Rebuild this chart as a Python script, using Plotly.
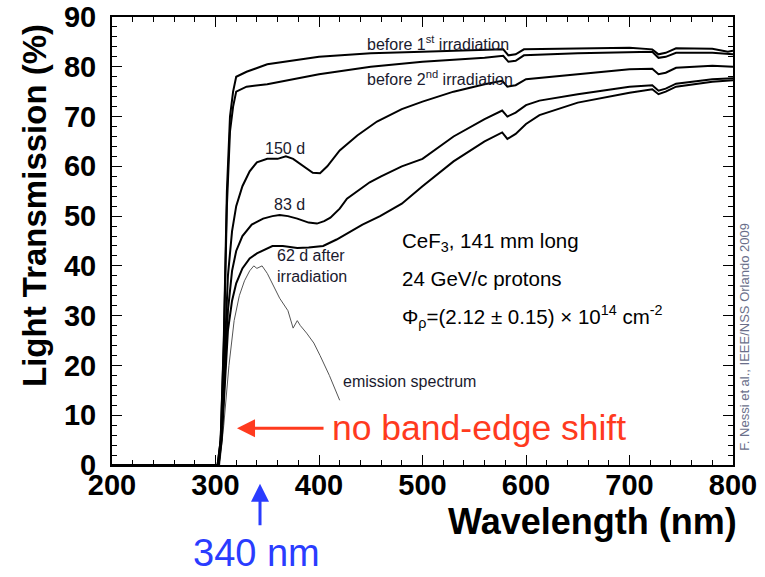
import plotly.graph_objects as go

# ---------------- data ----------------
wl_b1 = [200, 302, 305, 308, 311, 314, 317, 320, 330, 350, 400, 450, 500, 560, 578, 583, 590, 598, 650, 700, 722, 728, 735, 745, 780, 795, 800]
t_b1 = [0, 0, 5, 25, 55, 70, 75, 78, 79, 80.5, 82, 82.7, 83, 83.4, 83.5, 82.3, 82.5, 83.5, 83.7, 83.8, 83.5, 82.5, 82.8, 83.7, 83.6, 83, 83.2]

wl_b2 = [200, 302, 305, 308, 311, 314, 317, 320, 330, 350, 400, 450, 500, 560, 578, 583, 590, 598, 650, 700, 722, 728, 735, 745, 780, 800]
t_b2 = [0, 0, 5, 24, 52, 67, 72, 75, 76, 76.5, 78.5, 80, 81, 81.8, 82.2, 81, 81.2, 82.3, 82.7, 83, 83, 81.8, 82, 82.8, 82.8, 82.5]

wl_150 = [200, 303, 306, 309, 312, 316, 320, 326, 333, 340, 350, 360, 368, 375, 385, 394, 401, 408, 420, 437, 456, 480, 500, 530, 560, 577, 582, 590, 600, 650, 700, 722, 728, 735, 745, 780, 800]
t_150 = [0, 0, 8, 25, 38, 47, 52, 56, 59, 60.8, 61.5, 61.5, 62, 61.5, 60, 58.7, 58.6, 60, 63.2, 66.2, 69, 71.5, 73, 75, 76.5, 77.2, 76, 76.3, 77.5, 78.5, 79.5, 79.6, 78.5, 78.8, 79.8, 80.2, 80]

wl_83 = [200, 303, 306, 309, 312, 316, 320, 326, 335, 346, 355, 362, 370, 379, 390, 398, 405, 411, 420, 427, 440, 449, 460, 480, 500, 530, 560, 577, 582, 590, 600, 613, 650, 700, 722, 728, 735, 745, 780, 800]
t_83 = [0, 0, 6, 20, 31, 39, 43, 46, 48.3, 49.5, 50, 50.2, 50, 49.5, 48.7, 48.5, 49, 49.7, 51.5, 53.5, 55.5, 56.8, 58, 60, 61.5, 66, 69.5, 71.2, 70, 70.8, 72.3, 73.2, 74.5, 76, 76.3, 75.2, 75.6, 76.6, 77.5, 77.7]

wl_62 = [200, 303, 306, 309, 312, 316, 320, 326, 333, 340, 355, 365, 379, 390, 404, 417, 430, 442, 459, 480, 500, 530, 560, 577, 582, 590, 600, 613, 650, 700, 722, 728, 735, 745, 780, 800]
t_62 = [0, 0, 5, 17, 27, 33, 36.5, 39.5, 41.5, 42.5, 44, 44, 43.6, 43.7, 44, 45.3, 46.8, 48.3, 50, 52.5, 56, 61, 65, 66.8, 65.5, 66.5, 68.5, 70.3, 72.8, 74.8, 75.5, 74.5, 75, 76, 77, 77.3]

wl_em = [304, 308, 313, 318, 323, 328, 333, 337, 340, 345, 350, 355, 362, 370, 375, 379, 382, 388, 395, 401, 410, 420]
em = [0, 8, 20, 29, 34, 37, 39, 40, 39.5, 40, 38.5, 36.5, 33.5, 31, 27.5, 29, 28, 26.5, 24.5, 22, 18, 13]

x_ticks = [200, 300, 400, 500, 600, 700, 800]
y_ticks = [0, 10, 20, 30, 40, 50, 60, 70, 80, 90]

# ---------------- figure ----------------
FONT = "Liberation Sans"
fig = go.Figure()

fig.add_trace(go.Scatter(x=wl_em, y=em, mode="lines",
                         line=dict(color="#555555", width=1), showlegend=False))
for wl, t in [(wl_62, t_62), (wl_83, t_83), (wl_150, t_150), (wl_b2, t_b2), (wl_b1, t_b1)]:
    fig.add_trace(go.Scatter(x=wl, y=t, mode="lines",
                             line=dict(color="black", width=2), showlegend=False))

axis_common = dict(showline=True, linecolor="black", linewidth=2, mirror="allticks",
                   ticks="inside", ticklen=10, tickwidth=1, tickcolor="black",
                   showgrid=False, zeroline=False, ticklabeloverflow="allow", automargin=False,
                   tickfont=dict(family=FONT, size=29, color="black", weight="bold"))

fig.update_xaxes(range=[200, 800], tickvals=x_ticks, ticktext=[str(v) for v in x_ticks],
                 minor=dict(dtick=20, ticklen=5, ticks="inside", tickcolor="black"),
                 ticklabelstandoff=-7, **axis_common)
fig.update_yaxes(range=[0, 90], tickvals=y_ticks, ticktext=[str(v) for v in y_ticks],
                 minor=dict(dtick=2, ticklen=5, ticks="inside", tickcolor="black"),
                 ticklabelstandoff=8, **axis_common)

small = dict(family=FONT, size=16, color="#1a1a2e")
big = dict(family=FONT, size=20.5, color="black")
ann = []
ann.append(dict(x=444, y=84.8, text="before 1<sup>st</sup> irradiation", font=small))
ann.append(dict(x=444, y=77.8, text="before 2<sup>nd</sup> irradiation", font=small))
ann.append(dict(x=346, y=63.5, text="150 d", font=small))
ann.append(dict(x=354.6, y=52.3, text="83 d", font=small))
ann.append(dict(x=357.5, y=39.9, text="62 d after<br>irradiation", font=small, align="left"))
ann.append(dict(x=421, y=16.8, text="emission spectrum", font=small))
ann.append(dict(x=478, y=44.9, text="CeF<sub>3</sub>, 141 mm long", font=big))
ann.append(dict(x=478, y=37.5, text="24 GeV/c protons", font=big))
ann.append(dict(x=478, y=29.9, text="Φ<sub>ρ</sub>=(2.12 ± 0.15) × 10<sup>14</sup> cm<sup>-2</sup>", font=big))
ann.append(dict(x=410.6, y=7.4, text="no band-edge shift", font=dict(family=FONT, size=35.5, color="#ff3a1e")))
for a in ann:
    a.update(xref="x", yref="y", xanchor="left", yanchor="middle", showarrow=False)

# arrows
ann.append(dict(xref="x", yref="y", x=320.8, y=7.4, ax=88, ay=0, text="", showarrow=True,
                arrowhead=2, arrowsize=1.2, arrowwidth=3, arrowcolor="#ff3a1e"))
ann.append(dict(xref="x", yref="paper", x=343, y=-0.042, ax=0, ay=43, text="", showarrow=True,
                arrowhead=2, arrowsize=1.2, arrowwidth=3, arrowcolor="#2a3cff"))
ann.append(dict(xref="x", yref="paper", x=340, y=-0.196, text="340 nm", showarrow=False,
                xanchor="center", yanchor="middle", font=dict(family=FONT, size=38, color="#2a3cff")))
# axis titles
ann.append(dict(xref="paper", yref="paper", x=1.01, y=-0.126, xanchor="right", yanchor="middle",
                text="Wavelength (nm)", showarrow=False,
                font=dict(family=FONT, size=36, color="black", weight="bold")))
ann.append(dict(xref="paper", yref="paper", x=-0.124, y=0.99, xanchor="center", yanchor="top",
                text="Light Transmission (%)", showarrow=False, textangle=-90,
                font=dict(family=FONT, size=33, color="black", weight="bold")))
# credit
ann.append(dict(xref="paper", yref="paper", x=1.019, y=0.286, xanchor="center", yanchor="middle",
                text="F. Nessi et al., IEEE/NSS Orlando 2009", showarrow=False, textangle=-90,
                font=dict(family=FONT, size=13, color="#6a6f8a")))

fig.update_layout(width=765, height=577, margin=dict(l=112, r=32, t=17, b=112, autoexpand=False),
                  paper_bgcolor="white", plot_bgcolor="white", annotations=ann)

fig.write_html("out.html")
